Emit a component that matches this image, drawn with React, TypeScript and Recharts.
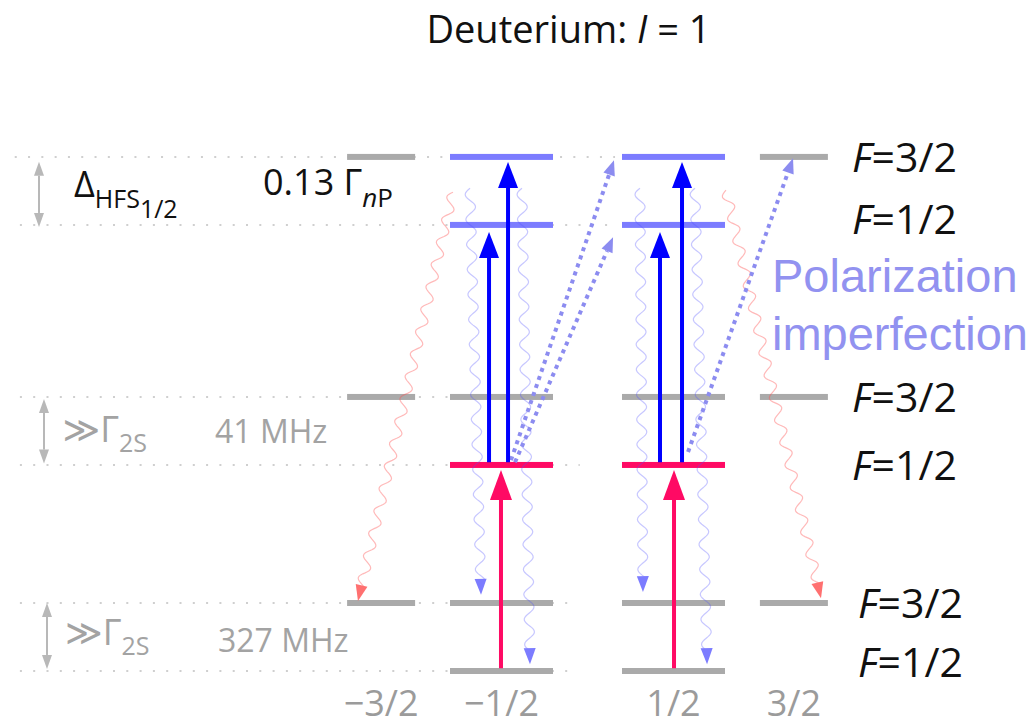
import React from "react";
import {
  ComposedChart,
  Scatter,
  XAxis,
  YAxis,
  ReferenceLine,
  ReferenceDot,
} from "recharts";

// hyperfine level energies (arb. units, 1S F=1/2 = 0)
const LEVEL_ENERGY = [0, 1, 3.03, 4.03, 6.56, 7.56];
const LEVEL_F = ["1/2", "3/2", "1/2", "3/2", "1/2", "3/2"];

// m_F columns: position on the x axis and their tick labels
const MF_POS = [-2.4, -1, 1, 2.4];
const MF_LABELS = ["\u22123/2", "\u22121/2", "1/2", "3/2"];

// levels, grouped by how they are coloured
const grayLevels = [
  { m: -2.4, E: 7.56 },
  { m: 2.4, E: 7.56 },
  { m: -2.4, E: 4.03 },
  { m: -1, E: 4.03 },
  { m: 1, E: 4.03 },
  { m: 2.4, E: 4.03 },
  { m: -2.4, E: 1 },
  { m: -1, E: 1 },
  { m: 1, E: 1 },
  { m: 2.4, E: 1 },
  { m: -1, E: 0 },
  { m: 1, E: 0 },
];
const blueLevels = [
  { m: -1, E: 7.56 },
  { m: 1, E: 7.56 },
  { m: -1, E: 6.56 },
  { m: 1, E: 6.56 },
];
const pinkLevels = [
  { m: -1, E: 3.03 },
  { m: 1, E: 3.03 },
];

// dotted guides behind the levels
const guideLines = [
  { E: 7.56, from: -6.66, to: 0.32 },
  { E: 6.56, from: -6.6, to: 0.32 },
  { E: 4.03, from: -6.6, to: -0.45 },
  { E: 3.03, from: -6.6, to: -0.09 },
  { E: 1, from: -6.6, to: -0.2 },
  { E: 0, from: -6.6, to: -0.2 },
];

// 1S -> 2S excitation (pink)
const pinkArrows = [
  { x1: -1.006, y1: 0.04, x2: -1.006, y2: 2.956 },
  { x1: 1.006, y1: 0.04, x2: 1.006, y2: 2.956 },
];

// 2S -> 2P laser (blue)
const blueArrows = [
  { x1: -1.145, y1: 3.07, x2: -1.145, y2: 6.456 },
  { x1: -0.924, y1: 3.07, x2: -0.924, y2: 7.485 },
  { x1: 0.843, y1: 3.07, x2: 0.843, y2: 6.456 },
  { x1: 1.099, y1: 3.07, x2: 1.099, y2: 7.485 },
];

// polarization imperfection (dotted)
const dottedArrows = [
  { x1: -0.89, y1: 3.1, x2: 0.308, y2: 7.51 },
  { x1: -0.843, y1: 3.07, x2: 0.297, y2: 6.38 },
  { x1: 1.169, y1: 3.22, x2: 2.39, y2: 7.54 },
];

// spontaneous decays
const blueDecays = [
  { x1: -1.366, y1: 7.1, x2: -1.238, y2: 1.12 },
  { x1: -0.762, y1: 7.1, x2: -0.669, y2: 0.1 },
  { x1: 0.61, y1: 7.1, x2: 0.645, y2: 1.16 },
  { x1: 1.25, y1: 7.1, x2: 1.39, y2: 0.1 },
];
const redDecays = [
  { x1: -1.564, y1: 7.04, x2: -2.669, y2: 1.03 },
  { x1: 1.61, y1: 7.07, x2: 2.715, y2: 1.07 },
];

// splitting markers on the left
const splitArrows = [
  { x1: -6.378, y1: 6.53, x2: -6.378, y2: 7.49 },
  { x1: -6.32, y1: 3.05, x2: -6.32, y2: 4.0 },
  { x1: -6.285, y1: 0.03, x2: -6.285, y2: 1.0 },
];

const FONT = "'Open Sans', 'DejaVu Sans', sans-serif";
const GRAY_TEXT = "#a3a3a3";

// ---- shapes ----
function arrowHead(x1: number, y1: number, x2: number, y2: number, len: number, half: number) {
  const dx = x2 - x1;
  const dy = y2 - y1;
  const L = Math.hypot(dx, dy) || 1;
  const ux = dx / L;
  const uy = dy / L;
  const bx = x2 - ux * len;
  const by = y2 - uy * len;
  const pts = `${x2},${y2} ${bx - uy * half},${by + ux * half} ${bx + uy * half},${by - ux * half}`;
  return { pts, bx, by, ux, uy, L };
}

const solidArrow = (color: string, width: number, len: number, half: number) => (p: any) => {
  const h = arrowHead(p.x1, p.y1, p.x2, p.y2, len, half);
  return (
    <g>
      <line x1={p.x1} y1={p.y1} x2={h.bx + h.ux * 2} y2={h.by + h.uy * 2} stroke={color} strokeWidth={width} />
      <polygon points={h.pts} fill={color} />
    </g>
  );
};

const dottedArrow = (p: any) => {
  const h = arrowHead(p.x1, p.y1, p.x2, p.y2, 15, 6);
  return (
    <g>
      <line x1={p.x1} y1={p.y1} x2={h.bx} y2={h.by} stroke="#8c8cf0" strokeWidth={4} strokeDasharray="4 4.5" />
      <polygon points={h.pts} fill="#8c8cf0" />
    </g>
  );
};

const wavyArrow = (color: string, headColor: string, opacity: number, amp: number, wl: number) => (p: any) => {
  const h = arrowHead(p.x1, p.y1, p.x2, p.y2, 16, 6);
  const run = h.L - 14;
  const n = Math.max(2, Math.floor(run / 1.5));
  let d = "";
  for (let i = 0; i <= n; i++) {
    const s = (i * run) / n;
    const off = amp * Math.sin((2 * Math.PI * s) / wl);
    const px = p.x1 + h.ux * s - h.uy * off;
    const py = p.y1 + h.uy * s + h.ux * off;
    d += `${i ? "L" : "M"}${px.toFixed(2)},${py.toFixed(2)}`;
  }
  return (
    <g>
      <path d={d} fill="none" stroke={color} strokeWidth={1.2} opacity={opacity} />
      <polygon points={h.pts} fill={headColor} />
    </g>
  );
};

const doubleArrow = (p: any) => {
  const a = arrowHead(p.x1, p.y1, p.x2, p.y2, 14, 5);
  const b = arrowHead(p.x2, p.y2, p.x1, p.y1, 14, 5);
  return (
    <g>
      <line x1={b.bx} y1={b.by} x2={a.bx} y2={a.by} stroke="#b8b8b8" strokeWidth={2} />
      <polygon points={a.pts} fill="#b8b8b8" />
      <polygon points={b.pts} fill="#b8b8b8" />
    </g>
  );
};

const levelShape = (color: string) => (p: any) => {
  const w = Math.abs(p.payload.m) > 2 ? 68 : 103;
  return <rect x={p.cx - w / 2} y={p.cy - 3} width={w} height={6} fill={color} />;
};

// ---- text annotations ----
const NOTES = [
  {
    x: -0.221,
    y: 9.235,
    render: (cx: number, cy: number) => (
      <text x={cx} y={cy} textAnchor="middle" fontSize={38} fill="#111" fontFamily={FONT}>
        Deuterium: <tspan fontStyle="italic">I</tspan> = 1
      </text>
    ),
  },
  {
    x: -5.971,
    y: 6.97,
    render: (cx: number, cy: number) => (
      <text x={cx} y={cy} fontSize={36} fill="#111" fontFamily={FONT}>
        Δ
        <tspan fontSize={25} dy={11}>HFS</tspan>
        <tspan fontSize={25} dy={10}>1/2</tspan>
      </text>
    ),
  },
  {
    x: -3.773,
    y: 7.0,
    render: (cx: number, cy: number) => (
      <text x={cx} y={cy} fontSize={36} fill="#111" fontFamily={FONT}>
        0.13 Γ
        <tspan fontSize={26} dy={12} fontStyle="italic">n</tspan>
        <tspan fontSize={26}>P</tspan>
      </text>
    ),
  },
  {
    x: -6.105,
    y: 3.368,
    render: (cx: number, cy: number) => (
      <text x={cx} y={cy} fontSize={36} fill={GRAY_TEXT} fontFamily={FONT}>
        ≫Γ<tspan fontSize={25} dy={10}>2S</tspan>
      </text>
    ),
  },
  {
    x: -4.331,
    y: 3.353,
    render: (cx: number, cy: number) => (
      <text x={cx} y={cy} fontSize={32} fill={GRAY_TEXT} fontFamily={FONT}>
        41 MHz
      </text>
    ),
  },
  {
    x: -6.076,
    y: 0.382,
    render: (cx: number, cy: number) => (
      <text x={cx} y={cy} fontSize={36} fill={GRAY_TEXT} fontFamily={FONT}>
        ≫Γ<tspan fontSize={25} dy={10}>2S</tspan>
      </text>
    ),
  },
  {
    x: -4.297,
    y: 0.279,
    render: (cx: number, cy: number) => (
      <text x={cx} y={cy} fontSize={32} fill={GRAY_TEXT} fontFamily={FONT}>
        327 MHz
      </text>
    ),
  },
  {
    x: 2.145,
    y: 5.574,
    render: (cx: number, cy: number) => (
      <text x={cx} y={cy} fontSize={47} fill="#9292f0" fontFamily="'Liberation Sans', Arial, sans-serif">
        Polarization
      </text>
    ),
  },
  {
    x: 2.145,
    y: 4.72,
    render: (cx: number, cy: number) => (
      <text x={cx} y={cy} fontSize={47} fill="#9292f0" fontFamily="'Liberation Sans', Arial, sans-serif">
        imperfection
      </text>
    ),
  },
];

// ---- axis ticks ----
const MfTick = (p: any) => {
  const i = MF_POS.indexOf(p.payload.value);
  return (
    <text x={p.x} y={p.y} dy={30} textAnchor="middle" fontSize={36} fill="#9b9b9b" fontFamily={FONT}>
      {MF_LABELS[i]}
    </text>
  );
};

const FTick = (p: any) => {
  const i = LEVEL_ENERGY.indexOf(p.payload.value);
  const dx = i <= 1 ? 6 : 0;
  const dy = i === 0 ? -9 : i === 4 ? -6 : 0;
  return (
    <text x={p.x + dx} y={p.y + dy} dy="0.36em" fontSize={41} fill="#111" fontFamily={FONT}>
      <tspan fontStyle="italic">F</tspan>={LEVEL_F[i]}
    </text>
  );
};

export default function App() {
  return (
    <div style={{ position: "absolute", left: 0, top: 0, width: 1035, height: 726, background: "#fff" }}>
      <ComposedChart width={1035} height={726} margin={{ top: 0, right: 0, bottom: 0, left: 0 }}>
        <XAxis
          type="number"
          dataKey="m"
          domain={[-6.8314, 2.936]}
          allowDataOverflow
          ticks={MF_POS}
          interval={0}
          height={40}
          axisLine={false}
          tickLine={false}
          tickSize={0}
          tickMargin={0}
          tick={MfTick}
        />
        <YAxis
          type="number"
          dataKey="E"
          orientation="right"
          width={195}
          domain={[-0.2206, 9.8676]}
          allowDataOverflow
          ticks={LEVEL_ENERGY}
          interval={0}
          axisLine={false}
          tickLine={false}
          tickSize={0}
          tickMargin={12}
          tick={FTick}
        />

        {guideLines.map((g, i) => (
          <ReferenceLine
            key={`g${i}`}
            segment={[
              { x: g.from, y: g.E },
              { x: g.to, y: g.E },
            ]}
            stroke="#cfcfcf"
            strokeWidth={2}
            strokeDasharray="2 11.3"
          />
        ))}

        <Scatter data={grayLevels} dataKey="E" isAnimationActive={false} shape={levelShape("#aaaaaa")} />
        <Scatter data={blueLevels} dataKey="E" isAnimationActive={false} shape={levelShape("#7c7cff")} />
        <Scatter data={pinkLevels} dataKey="E" isAnimationActive={false} shape={levelShape("#ff0a64")} />

        {redDecays.map((a, i) => (
          <ReferenceLine
            key={`r${i}`}
            zIndex={700}
            segment={[
              { x: a.x1, y: a.y1 },
              { x: a.x2, y: a.y2 },
            ]}
            shape={wavyArrow("#ff5050", "#ff7070", 0.4, 5, 23)}
          />
        ))}
        {blueDecays.map((a, i) => (
          <ReferenceLine
            key={`b${i}`}
            zIndex={700}
            segment={[
              { x: a.x1, y: a.y1 },
              { x: a.x2, y: a.y2 },
            ]}
            shape={wavyArrow("#5050ff", "#7c7cff", 0.32, 5, 25)}
          />
        ))}
        {dottedArrows.map((a, i) => (
          <ReferenceLine
            key={`d${i}`}
            zIndex={750}
            segment={[
              { x: a.x1, y: a.y1 },
              { x: a.x2, y: a.y2 },
            ]}
            shape={dottedArrow}
          />
        ))}
        {blueArrows.map((a, i) => (
          <ReferenceLine
            key={`l${i}`}
            zIndex={800}
            segment={[
              { x: a.x1, y: a.y1 },
              { x: a.x2, y: a.y2 },
            ]}
            shape={solidArrow("#0000ff", 4, 26, 10)}
          />
        ))}
        {pinkArrows.map((a, i) => (
          <ReferenceLine
            key={`p${i}`}
            zIndex={800}
            segment={[
              { x: a.x1, y: a.y1 },
              { x: a.x2, y: a.y2 },
            ]}
            shape={solidArrow("#ff0a64", 4, 30, 11)}
          />
        ))}
        {splitArrows.map((a, i) => (
          <ReferenceLine
            key={`s${i}`}
            segment={[
              { x: a.x1, y: a.y1 },
              { x: a.x2, y: a.y2 },
            ]}
            shape={doubleArrow}
          />
        ))}

        {NOTES.map((n, i) => (
          <ReferenceDot
            key={`n${i}`}
            x={n.x}
            y={n.y}
            r={0}
            zIndex={900}
            shape={(p: any) => n.render(p.cx, p.cy)}
          />
        ))}
      </ComposedChart>
    </div>
  );
}
